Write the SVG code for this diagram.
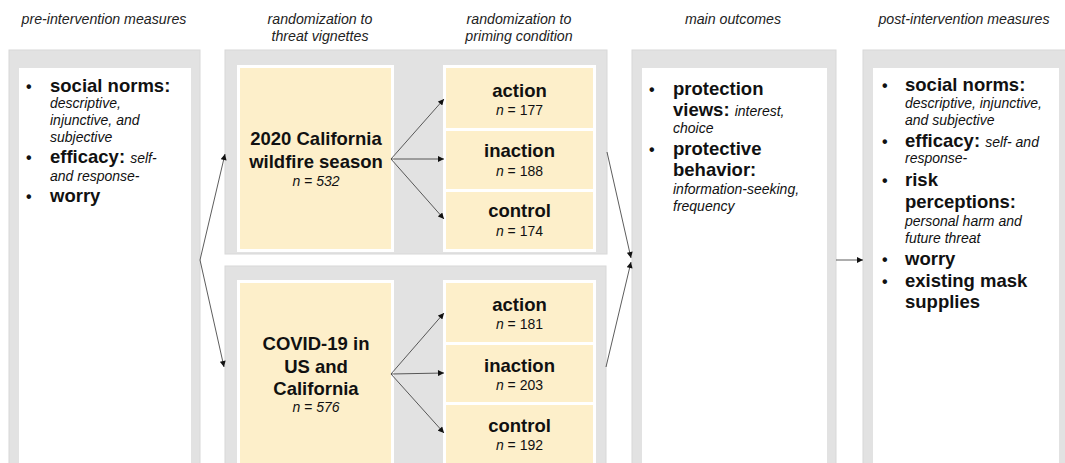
<svg xmlns="http://www.w3.org/2000/svg" width="1065" height="463" viewBox="0 0 1065 463">
<style>
text{font-family:"Liberation Sans",Arial,sans-serif;fill:#111}
.hd{font-size:14.2px;font-style:italic;fill:#222;text-anchor:middle}
.b{font-size:18.5px;font-weight:bold}
.i{font-size:14px;font-style:italic;font-weight:normal}
.r{font-size:14px;font-weight:normal;font-style:normal}
.c{text-anchor:middle}
.bul{font-size:16px;font-weight:bold}
.panel{fill:#e2e2e2;stroke:#d8d8d8;stroke-width:1}
.inner{fill:#ffffff}
.yel{fill:#fdefca}
.conn{stroke:#333;stroke-width:0.8;fill:none;marker-end:url(#ah)}
</style>
<defs>
<marker id="ah" viewBox="0 0 10 10" refX="10" refY="5" markerWidth="7" markerHeight="6" markerUnits="userSpaceOnUse" orient="auto">
<path d="M0,0 L10,5 L0,10 z" fill="#111"/>
</marker>
</defs>
<rect width="1065" height="463" fill="#ffffff"/>

<g id="headers">
<text class="hd" x="104" y="24">pre-intervention measures</text>
<text class="hd" x="320" y="24">randomization to</text>
<text class="hd" x="320" y="41">threat vignettes</text>
<text class="hd" x="519" y="24">randomization to</text>
<text class="hd" x="519" y="41">priming condition</text>
<text class="hd" x="733" y="24">main outcomes</text>
<text class="hd" x="964" y="24">post-intervention measures</text>
</g>

<g id="pre">
<rect class="panel" x="9" y="50" width="191" height="430"/>
<rect class="inner" x="19" y="68" width="172" height="420"/>
<text class="bul" x="26" y="92">•</text>
<text class="b" x="50" y="92">social norms:</text>
<text class="i" x="50" y="108">descriptive,</text>
<text class="i" x="50" y="125">injunctive, and</text>
<text class="i" x="50" y="142">subjective</text>
<text class="bul" x="26" y="163">•</text>
<text class="b" x="50" y="163">efficacy: <tspan class="i">self-</tspan></text>
<text class="i" x="50" y="181">and response-</text>
<text class="bul" x="26" y="202">•</text>
<text class="b" x="50" y="202">worry</text>
</g>

<g id="wildfire-block">
<rect class="panel" x="225" y="50" width="382" height="204"/>
</g>
<g id="covid-block">
<rect class="panel" x="225" y="266" width="381" height="220"/>
</g>

<g id="wildfire">
<rect class="inner" x="237" y="65" width="157" height="187"/>
<rect class="yel" x="240" y="68" width="151" height="181"/>
<text class="b c" x="316" y="145">2020 California</text>
<text class="b c" x="316" y="168">wildfire season</text>
<text class="i c" x="316" y="186">n = 532</text>
</g>

<g id="wildfire-priming">
<rect class="inner" x="443" y="65" width="153" height="187"/>
<g id="wf-action">
<rect class="yel" x="446" y="68" width="147" height="60"/>
<text class="b c" x="519.5" y="97">action</text>
<text class="r c" x="519.5" y="115"><tspan class="i">n</tspan> = 177</text>
</g>
<g id="wf-inaction">
<rect class="yel" x="446" y="131" width="147" height="58"/>
<text class="b c" x="519.5" y="157">inaction</text>
<text class="r c" x="519.5" y="176"><tspan class="i">n</tspan> = 188</text>
</g>
<g id="wf-control">
<rect class="yel" x="446" y="192" width="147" height="57"/>
<text class="b c" x="519.5" y="217">control</text>
<text class="r c" x="519.5" y="236"><tspan class="i">n</tspan> = 174</text>
</g>
</g>

<g id="covid">
<rect class="inner" x="237" y="280" width="157" height="200"/>
<rect class="yel" x="240" y="283" width="151" height="200"/>
<text class="b c" x="316" y="350">COVID-19 in</text>
<text class="b c" x="316" y="373">US and</text>
<text class="b c" x="316" y="395">California</text>
<text class="i c" x="316" y="412">n = 576</text>
</g>

<g id="covid-priming">
<rect class="inner" x="443" y="280" width="153" height="200"/>
<g id="cv-action">
<rect class="yel" x="446" y="283" width="147" height="59"/>
<text class="b c" x="519.5" y="311">action</text>
<text class="r c" x="519.5" y="329"><tspan class="i">n</tspan> = 181</text>
</g>
<g id="cv-inaction">
<rect class="yel" x="446" y="345" width="147" height="57"/>
<text class="b c" x="519.5" y="372">inaction</text>
<text class="r c" x="519.5" y="390"><tspan class="i">n</tspan> = 203</text>
</g>
<g id="cv-control">
<rect class="yel" x="446" y="405" width="147" height="70"/>
<text class="b c" x="519.5" y="432">control</text>
<text class="r c" x="519.5" y="450"><tspan class="i">n</tspan> = 192</text>
</g>
</g>

<g id="main">
<rect class="panel" x="632" y="50" width="204" height="430"/>
<rect class="inner" x="642" y="68" width="185" height="420"/>
<text class="bul" x="649" y="95">•</text>
<text class="b" x="673" y="95">protection</text>
<text class="b" x="673" y="116">views: <tspan class="i">interest,</tspan></text>
<text class="i" x="673" y="133">choice</text>
<text class="bul" x="649" y="155">•</text>
<text class="b" x="673" y="155">protective</text>
<text class="b" x="673" y="176">behavior:</text>
<text class="i" x="673" y="194">information-seeking,</text>
<text class="i" x="673" y="211">frequency</text>
</g>

<g id="post">
<rect class="panel" x="863" y="50" width="210" height="430"/>
<rect class="inner" x="873" y="68" width="186" height="420"/>
<text class="bul" x="882" y="91">•</text>
<text class="b" x="905" y="91">social norms:</text>
<text class="i" x="905" y="108">descriptive, injunctive,</text>
<text class="i" x="905" y="125">and subjective</text>
<text class="bul" x="882" y="147">•</text>
<text class="b" x="905" y="147">efficacy: <tspan class="i">self- and</tspan></text>
<text class="i" x="905" y="163">response-</text>
<text class="bul" x="882" y="186">•</text>
<text class="b" x="905" y="186">risk</text>
<text class="b" x="905" y="208">perceptions:</text>
<text class="i" x="905" y="226">personal harm and</text>
<text class="i" x="905" y="243">future threat</text>
<text class="bul" x="882" y="265">•</text>
<text class="b" x="905" y="265">worry</text>
<text class="bul" x="882" y="287">•</text>
<text class="b" x="905" y="287">existing mask</text>
<text class="b" x="905" y="308">supplies</text>
</g>

<g id="connectors">
<path class="conn" d="M200,260 L225,154"/>
<path class="conn" d="M200,260 L224,367"/>
<path class="conn" d="M391,159 L444,99"/>
<path class="conn" d="M391,159 L444,159"/>
<path class="conn" d="M391,159 L444,219"/>
<path class="conn" d="M391,374 L444,313"/>
<path class="conn" d="M391,374 L444,373"/>
<path class="conn" d="M391,374 L444,433"/>
<path class="conn" d="M607,152 L631,258"/>
<path class="conn" d="M606,367 L631,262"/>
<path class="conn" d="M836,260 L863,260"/>
</g>
</svg>
